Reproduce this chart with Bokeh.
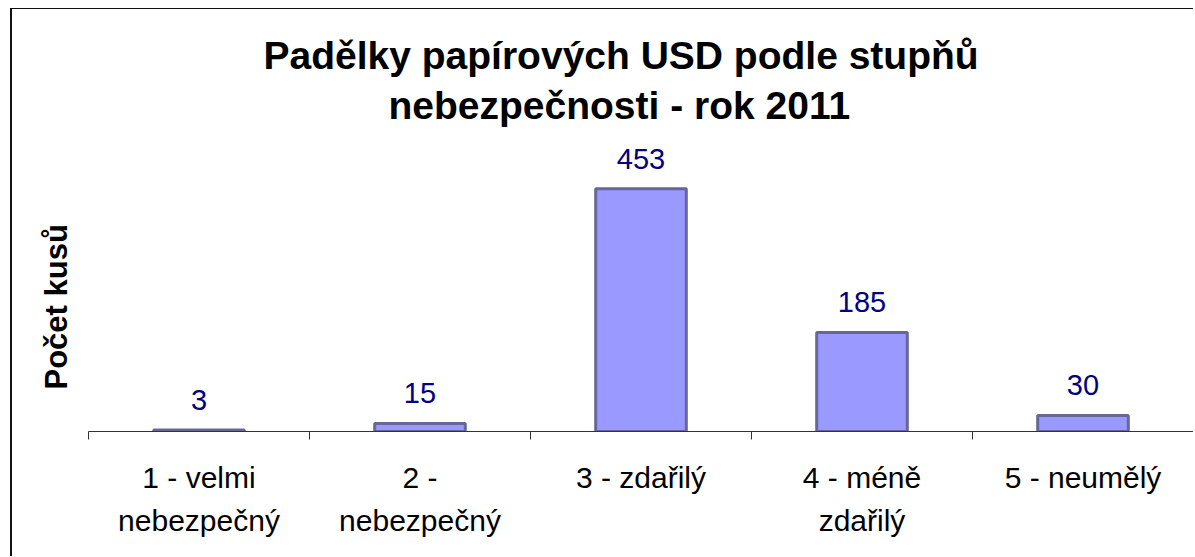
from bokeh.plotting import figure
from bokeh.models import FixedTicker, Range1d, ColumnDataSource, Title
from bokeh.core.properties import value
from bokeh.embed import file_html
from bokeh.resources import INLINE

title_lines = ["Padělky papírových USD podle stupňů", "nebezpečnosti - rok 2011"]
y_label = "Počet kusů"
categories = ["1 - velmi\nnebezpečný", "2 -\nnebezpečný", "3 - zdařilý", "4 - méně\nzdařilý", "5 - neumělý"]
counts = [3, 15, 453, 185, 30]

n = len(categories)
centers = [i + 0.5 for i in range(n)]
src = ColumnDataSource(dict(x=centers, top=counts, label=[str(v) for v in counts]))

FONT = "Liberation Sans"

p = figure(width=1183, height=548, x_range=Range1d(0, n), y_range=Range1d(0, 560),
           output_backend="svg", toolbar_location=None,
           min_border_left=76, min_border_right=2, min_border_top=122, min_border_bottom=126)
p.styles = {"margin-left": "10px", "margin-top": "8px",
            "border-left": "2px solid #111111", "border-top": "1px solid #111111"}
p.outline_line_color = None
p.xgrid.visible = False
p.ygrid.visible = False
p.background_fill_color = "white"
p.border_fill_color = "white"

p.vbar(x="x", top="top", width=0.41, bottom=0, source=src,
       fill_color="#9999FF", line_color="#666699", line_width=3)
p.text(x="x", y="top", text="label", source=src, text_align="center", text_baseline="alphabetic",
       y_offset=-30, text_color="#000080", text_font=value(FONT), text_font_size="29px")

xa = p.xaxis[0]
xa.ticker = FixedTicker(ticks=centers, minor_ticks=list(range(n + 1)))
xa.major_label_overrides = {c: lab for c, lab in zip(centers, categories)}
xa.major_tick_line_color = None
xa.major_tick_out = 0
xa.major_tick_in = 0
xa.minor_tick_in = 0
xa.minor_tick_out = 8
xa.minor_tick_line_color = "#333333"
xa.axis_line_color = "#333333"
xa.major_label_text_font = FONT
xa.major_label_text_font_size = "30px"
xa.major_label_text_color = "black"
xa.major_label_text_line_height = 1.32
xa.major_label_standoff = 21

p.yaxis.visible = False

# y-axis title as a side title
p.add_layout(Title(text=y_label, align="left", offset=42, standoff=30, text_font=FONT,
                   text_font_size="31px", text_font_style="bold", text_color="black"), "left")

# chart title, two lines (later-added titles sit closer to the plot)
p.title.text = title_lines[0]
p.title.align = "left"
p.title.offset = 175
p.title.standoff = 0
p.title.text_font = FONT
p.title.text_font_size = "39px"
p.title.text_font_style = "bold"
p.title.text_color = "black"
p.add_layout(Title(text=title_lines[1], align="left", offset=300, standoff=10, text_font=FONT,
                   text_font_size="39px", text_font_style="bold", text_color="black"), "above")

open("out.html", "w").write(file_html(p, INLINE))
